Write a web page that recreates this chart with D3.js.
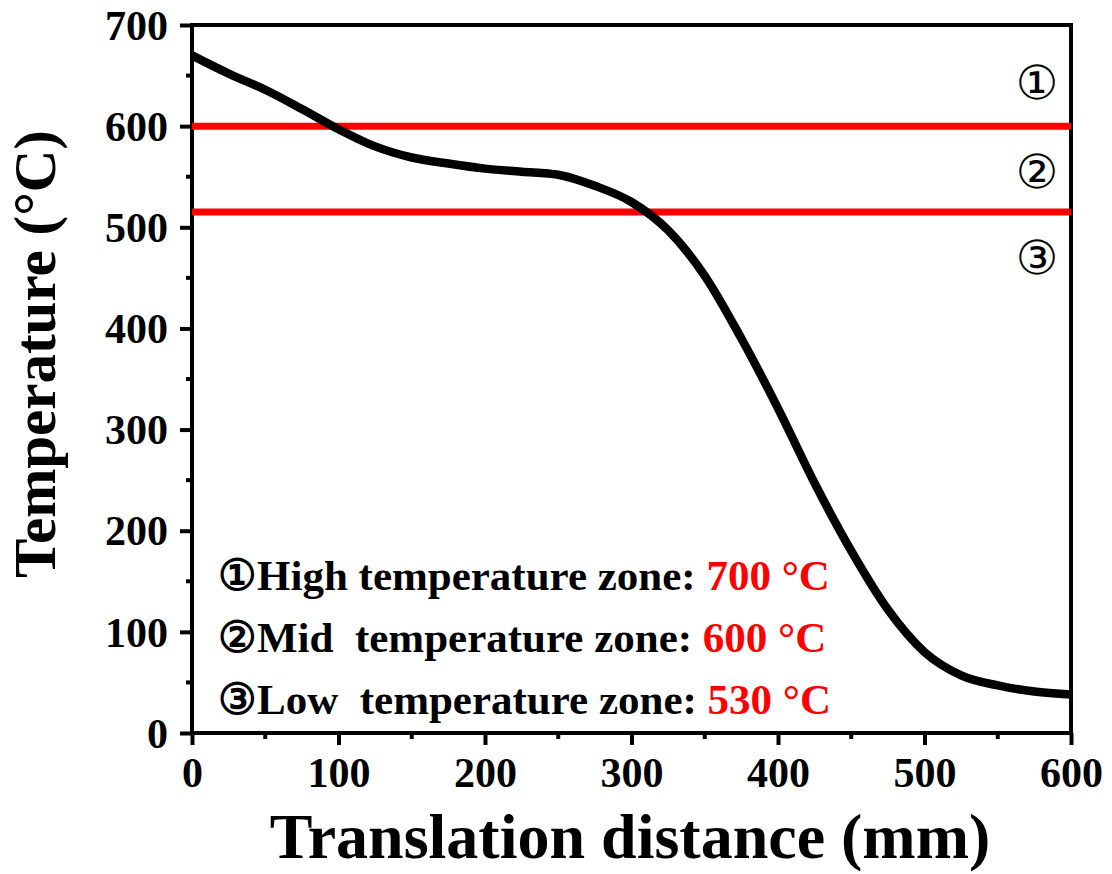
<!DOCTYPE html>
<html>
<head>
<meta charset="utf-8">
<script src="https://cdn.jsdelivr.net/npm/d3@7.9.0/dist/d3.min.js"></script>
<style>
  body { margin: 0; background: #fff; }
  text { font-family: "Liberation Serif", "Times New Roman", serif; font-weight: bold; }
</style>
</head>
<body>
<svg id="chart" width="1112" height="874"></svg>
<script>
// temperature profile along the furnace
const distance = [0, 25, 50, 75, 100, 125, 150, 175, 200, 225, 250, 275, 300, 325, 350, 375, 400, 425, 450, 475, 500, 525, 550, 575, 600];
const temperature = [670, 652, 636, 617, 597, 580, 569, 563, 558, 555, 552, 541, 525, 497, 452, 390, 321, 247, 180, 122, 80, 57, 47, 41, 38];

// zone boundaries (red lines)
const boundaries = [600, 515];

// zone markers on the right side
const markers = ['①', '②', '③'];
const markerTemps = [643, 555, 470];

// legend text
const zoneNames = ['①High temperature zone: ', '②Mid  temperature zone: ', '③Low  temperature zone: '];
const zoneTemps = ['700 °C', '600 °C', '530 °C'];

const xTicks = [0, 100, 200, 300, 400, 500, 600];
const yTicks = [0, 100, 200, 300, 400, 500, 600, 700];

const svg = d3.select('#chart');
const pLeft = 192, pRight = 1071, pTop = 25, pBottom = 733;

const x = d3.scaleLinear().domain([0, 600]).range([pLeft, pRight]);
const y = d3.scaleLinear().domain([0, 700]).range([pBottom, pTop]);

// minor ticks
const xMinor = d3.range(50, 600, 100);
const yMinor = d3.range(50, 700, 100);

svg.append('g')
  .selectAll('line')
  .data(xMinor)
  .join('line')
  .attr('x1', d => x(d)).attr('x2', d => x(d))
  .attr('y1', pBottom).attr('y2', pBottom + 6)
  .attr('stroke', '#000').attr('stroke-width', 4);

svg.append('g')
  .selectAll('line')
  .data(yMinor)
  .join('line')
  .attr('y1', d => y(d)).attr('y2', d => y(d))
  .attr('x1', pLeft).attr('x2', pLeft - 6)
  .attr('stroke', '#000').attr('stroke-width', 4);

const xAxis = svg.append('g')
  .attr('transform', `translate(0,${pBottom})`)
  .call(d3.axisBottom(x).tickValues(xTicks).tickSize(12).tickPadding(8).tickFormat(d3.format('d')));
const yAxis = svg.append('g')
  .attr('transform', `translate(${pLeft},0)`)
  .call(d3.axisLeft(y).tickValues(yTicks).tickSize(12).tickPadding(12).tickFormat(d3.format('d')));

[xAxis, yAxis].forEach(g => {
  g.select('.domain').remove();
  g.selectAll('.tick line').attr('stroke', '#000').attr('stroke-width', 4);
  g.selectAll('.tick text')
    .attr('fill', '#000')
    .style('font-size', '42px')
    .style('font-family', '"Liberation Serif", serif')
    .style('font-weight', 'bold');
});
yAxis.selectAll('.tick text').attr('dy', '0.34em');
xAxis.selectAll('.tick text').attr('dy', '0.8em');

// frame
svg.append('rect')
  .attr('x', pLeft).attr('y', pTop)
  .attr('width', pRight - pLeft).attr('height', pBottom - pTop)
  .attr('fill', 'none').attr('stroke', '#000').attr('stroke-width', 4);

// boundary lines
svg.append('g')
  .selectAll('line')
  .data(boundaries)
  .join('line')
  .attr('x1', pLeft).attr('x2', pRight)
  .attr('y1', d => y(d)).attr('y2', d => y(d))
  .attr('stroke', '#ff0000').attr('stroke-width', 7);

// curve
const line = d3.line()
  .x((d, i) => x(distance[i]))
  .y(d => y(d))
  .curve(d3.curveMonotoneX);

svg.append('path')
  .datum(temperature)
  .attr('d', line)
  .attr('fill', 'none')
  .attr('stroke', '#000')
  .attr('stroke-width', 8.5)
  .attr('stroke-linejoin', 'round');

// zone markers
svg.append('g')
  .selectAll('text')
  .data(markers)
  .join('text')
  .attr('x', 1037)
  .attr('y', (d, i) => y(markerTemps[i]))
  .attr('dy', '0.35em')
  .attr('text-anchor', 'middle')
  .style('font-family', '"DejaVu Sans", sans-serif')
  .style('font-weight', 'normal')
  .style('font-size', '47px')
  .text(d => d);

// legend
const legend = svg.append('g');
zoneNames.forEach((name, i) => {
  const t = legend.append('text')
    .attr('x', 218)
    .attr('y', 590 + i * 62)
    .style('font-size', '43px')
    .style('white-space', 'pre');
  t.append('tspan').attr('fill', '#000').text(name);
  t.append('tspan').attr('fill', '#ff0000').text(zoneTemps[i]);
});

// axis titles
svg.append('text')
  .attr('x', 630)
  .attr('y', 858)
  .attr('text-anchor', 'middle')
  .style('font-size', '64px')
  .text('Translation distance (mm)');

svg.append('text')
  .attr('transform', 'translate(55,354) rotate(-90)')
  .attr('text-anchor', 'middle')
  .style('font-size', '59px')
  .text('Temperature (°C)');
</script>
</body>
</html>
